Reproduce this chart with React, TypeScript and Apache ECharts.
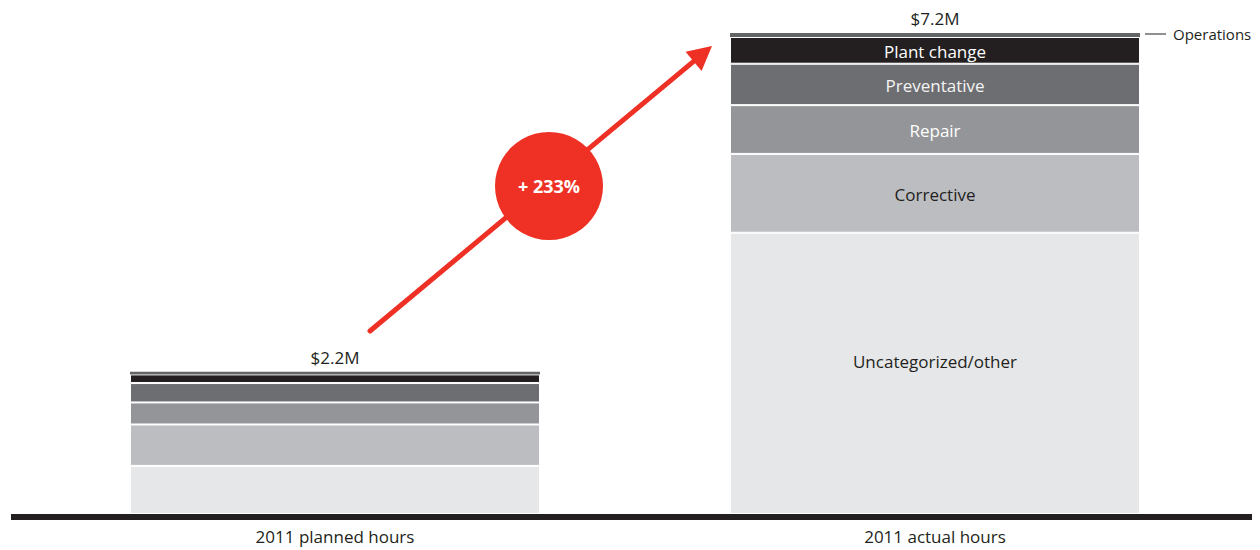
import React, { useEffect, useRef } from "react";
import * as echarts from "echarts";

const categories = ["2011 planned hours", "2011 actual hours"];
const segmentNames = ["Uncategorized/other", "Corrective", "Repair", "Preventative", "Plant change", "Operations"];
const uncategorized = [0.72, 4.21];
const corrective = [0.62, 1.18];
const repair = [0.33, 0.73];
const preventative = [0.29, 0.62];
const plantChange = [0.13, 0.4];
const operations = [0.04, 0.06];
const totalLabels = ["$2.2M", "$7.2M"];
const changeLabel = "+ 233%";

const segmentValues = [uncategorized, corrective, repair, preventative, plantChange, operations];
const segmentColors = ["#e6e7e8", "#bcbdc0", "#939598", "#6d6e71", "#231f20", "#636466"];
const labelColors = ["#231f20", "#231f20", "#ffffff", "#f4f4f4", "#ffffff", "#231f20"];
const labelOffsets = [[0, -12], [0, 1], [0, 1], [0, 1], [0, 1], [0, 0]];

const FONT = "Open Sans";

export default function App() {
  const ref = useRef<HTMLDivElement>(null);
  useEffect(() => {
    if (!ref.current) return;
    const chart = echarts.init(ref.current, undefined, { renderer: "svg" });

    const series: any[] = segmentNames.map((name, si) => {
      const isOps = name === "Operations";
      return {
        name,
        type: "bar",
        stack: "total",
        barWidth: 410,
        itemStyle: { color: segmentColors[si], borderColor: "#ffffff", borderWidth: isOps ? 0 : 1 },
        data: segmentValues[si].map((v, ci) => ({
          value: v,
          label: isOps
            ? {
                show: ci === 1,
                position: "right",
                distance: 5,
                offset: [0, -1],
                formatter: "{l|}{t|" + name + "}",
                rich: {
                  l: { width: 21, height: 1, backgroundColor: "#231f20" },
                  t: { fontSize: 15, color: "#231f20", fontFamily: FONT, padding: [0, 0, 0, 7] },
                },
              }
            : {
                show: ci === 1,
                position: "inside",
                offset: labelOffsets[si],
                formatter: name,
                fontSize: 17,
                color: labelColors[si],
                fontFamily: FONT,
              },
        })),
      };
    });

    series.push({
      name: "total",
      type: "bar",
      stack: "total",
      barWidth: 410,
      itemStyle: { color: "rgba(0,0,0,0)", borderWidth: 0 },
      label: {
        show: true,
        position: "top",
        distance: 6,
        fontSize: 17,
        color: "#231f20",
        fontFamily: FONT,
        formatter: (p: any) => totalLabels[p.dataIndex],
      },
      data: categories.map(() => 0),
    });

    // arrow geometry (annotation)
    const start = [370, 331];
    const tip = [712, 46];
    const dx = tip[0] - start[0];
    const dy = tip[1] - start[1];
    const len = Math.sqrt(dx * dx + dy * dy);
    const ux = dx / len;
    const uy = dy / len;
    const headLen = 24;
    const hw = 12.5;
    const bx = tip[0] - ux * headLen;
    const by = tip[1] - uy * headLen;

    chart.setOption({
      animation: false,
      grid: { left: 35, right: 25, top: 33, bottom: 36, containLabel: false },
      xAxis: {
        type: "category",
        data: categories,
        axisLine: { show: false },
        axisTick: { show: false },
        axisLabel: { fontSize: 17, color: "#231f20", fontFamily: FONT, margin: 14 },
      },
      yAxis: { type: "value", min: 0, max: 7.2, show: false, splitLine: { show: false } },
      series,
      graphic: [
        { type: "rect", shape: { x: 11, y: 514, width: 1241, height: 6 }, style: { fill: "#231f20" } },
        {
          type: "line",
          shape: { x1: start[0], y1: start[1], x2: bx + ux * 2, y2: by + uy * 2 },
          style: { stroke: "#ee3124", lineWidth: 5, lineCap: "round" },
        },
        {
          type: "polygon",
          shape: {
            points: [
              [tip[0], tip[1]],
              [bx - uy * hw, by + ux * hw],
              [bx + uy * hw, by - ux * hw],
            ],
          },
          style: { fill: "#ee3124" },
        },
        { type: "circle", shape: { cx: 549, cy: 186, r: 54 }, style: { fill: "#ee3124" } },
        {
          type: "text",
          x: 549,
          y: 186,
          style: {
            text: changeLabel,
            fill: "#ffffff",
            fontSize: 18,
            fontWeight: "bold",
            fontFamily: FONT,
            align: "center",
            verticalAlign: "middle",
          },
        },
      ],
    });
    return () => chart.dispose();
  }, []);
  return <div ref={ref} style={{ width: 1260, height: 550, position: "absolute", left: 0, top: 0 }} />;
}
